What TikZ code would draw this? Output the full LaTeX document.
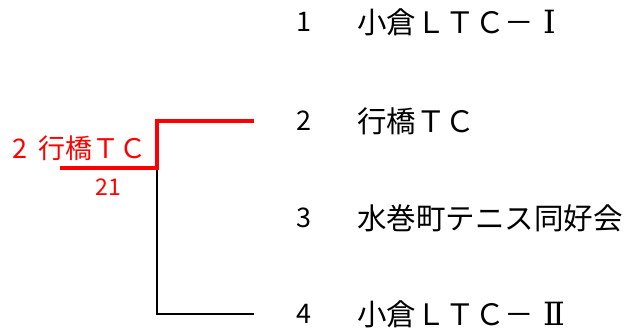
\documentclass[tikz,border=0pt]{standalone}
\usepackage{fontspec}
\setmainfont{Noto Sans CJK JP}
\newfontfamily\romfont{DejaVu Serif}
\usetikzlibrary{positioning}

\begin{document}
\begin{tikzpicture}[x=1pt,y=-1pt]
\useasboundingbox (0,0) rectangle (626,334);
\tikzset{num/.style={font=\fontsize{27}{27}\selectfont,inner sep=0pt},
  team/.style={font=\fontsize{29.5}{29.5}\selectfont,inner sep=0pt,anchor=west}}
\newcommand\romnum[1]{\hspace{9pt}{\romfont\fontsize{32}{32}\selectfont #1}}
\node[num] (n1) at (304,22) {1};
\node[team] (t1) at (357,22) {小倉ＬＴＣ－\romnum{Ⅰ}};
\node[num] (n2) at (304,121) {2};
\node[team] (t2) at (357,121) {行橋ＴＣ};
\node[num] (n3) at (304,218) {3};
\node[team] (t3) at (357,218) {水巻町テニス同好会};
\node[num] (n4) at (304,314) {4};
\node[team] (t4) at (357,314) {小倉ＬＴＣ－\romnum{Ⅱ}};

\coordinate (e2) at (254,121);
\coordinate (e4) at (254,314);
\coordinate (M) at (157,168);
\coordinate (W) at (60,168);
\draw[black,line width=2pt] (M) |- (e4);
\draw[red,line width=3.6pt] (W) -- (M) |- (e2);

\node[text=red,font=\fontsize{27}{27}\selectfont,inner sep=0pt,anchor=east] (win) at (147,148) {2\hspace{11pt}行橋ＴＣ};
\node[text=red,font=\fontsize{23}{23}\selectfont,inner sep=0pt] (score) at (108,187) {21};
\end{tikzpicture}
\end{document}
